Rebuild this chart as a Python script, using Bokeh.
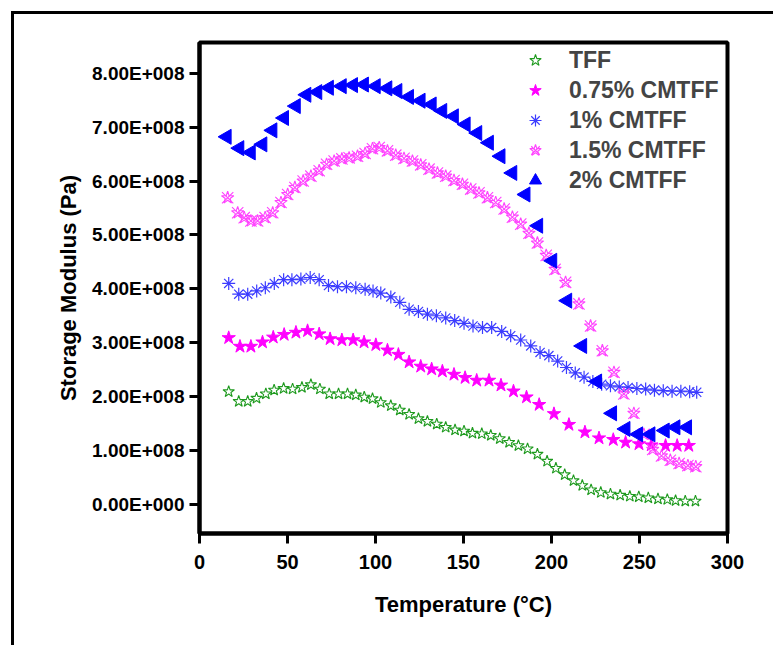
import numpy as np
from bokeh.plotting import figure
from bokeh.models import Legend, LegendItem, FixedTicker, Range1d
from bokeh.embed import file_html
from bokeh.resources import INLINE

# ---- data (storage modulus in units of 1e8 Pa) ----
temp_tff = [16.6, 22.3, 27.4, 32.4, 37.7, 42.4, 47.8, 52.9, 58.2, 63.3, 68.4, 73.7, 79.0, 84.1, 88.8,
            93.6, 98.3, 103.0, 108.7, 113.8, 119.1, 124.4, 129.5, 134.8, 139.9, 145.2, 150.3, 155.1,
            160.4, 165.5, 170.6, 175.9, 181.2, 186.4, 192.0, 197.5, 202.5, 207.5, 212.5, 217.5, 222.5,
            228.0, 233.5, 239.0, 244.5, 249.6, 255.0, 260.5, 265.8, 270.5, 276.0, 281.8]
mod_tff = [2.09, 1.91, 1.91, 1.97, 2.05, 2.12, 2.15, 2.14, 2.17, 2.22, 2.14, 2.05, 2.05, 2.05, 2.03,
           1.99, 1.96, 1.89, 1.83, 1.75, 1.67, 1.59, 1.54, 1.49, 1.43, 1.38, 1.36, 1.32,
           1.31, 1.28, 1.22, 1.15, 1.09, 1.03, 0.93, 0.80, 0.67, 0.55, 0.44, 0.35, 0.27,
           0.22, 0.19, 0.17, 0.15, 0.14, 0.12, 0.10, 0.09, 0.07, 0.06, 0.06]

temp_075 = [16.6, 23.0, 29.2, 35.8, 41.9, 48.1, 54.8, 61.4, 68.0, 74.2, 80.9, 87.3, 93.5, 100.2,
            106.8, 113.0, 119.1, 125.7, 131.9, 138.0, 144.6, 150.9, 157.5, 164.5, 171.3, 178.4,
            185.8, 193.0, 201.4, 209.9, 219.0, 227.0, 235.1, 242.1, 249.7, 256.7, 264.8, 271.4, 278.0]
mod_075 = [3.09, 2.93, 2.93, 3.01, 3.10, 3.15, 3.19, 3.22, 3.16, 3.07, 3.05, 3.05, 3.01, 2.96,
           2.86, 2.78, 2.64, 2.56, 2.51, 2.47, 2.41, 2.35, 2.30, 2.30, 2.21, 2.10,
           1.99, 1.85, 1.68, 1.48, 1.34, 1.23, 1.20, 1.15, 1.12, 1.10, 1.09, 1.09, 1.09]

temp_1 = [16.6, 22.3, 27.4, 32.5, 37.4, 42.5, 47.8, 52.5, 57.6, 62.9, 68.0, 73.3, 78.4, 83.5, 88.8,
          94.1, 98.6, 103.0, 108.7, 113.8, 119.1, 124.4, 129.5, 134.6, 139.9, 145.0, 150.3, 155.4,
          160.8, 166.0, 171.7, 176.8, 182.5, 188.2, 193.5, 198.5, 203.5, 208.5, 213.5, 218.5, 223.5,
          228.5, 233.5, 238.5, 243.5, 248.5, 253.5, 258.5, 263.5, 268.5, 273.5, 278.5, 282.5]
mod_1 = [4.10, 3.90, 3.90, 3.96, 4.02, 4.10, 4.17, 4.17, 4.18, 4.21, 4.17, 4.06, 4.04, 4.04, 4.02,
         3.99, 3.96, 3.92, 3.85, 3.75, 3.62, 3.58, 3.53, 3.50, 3.46, 3.41, 3.36, 3.31,
         3.28, 3.28, 3.21, 3.13, 3.05, 2.94, 2.82, 2.76, 2.66, 2.54, 2.44, 2.36, 2.28,
         2.23, 2.20, 2.18, 2.17, 2.15, 2.14, 2.12, 2.11, 2.10, 2.10, 2.09, 2.08]

temp_15 = [16.0, 21.7, 25.4, 29.2, 33.0, 37.3, 41.6, 46.3, 50.1, 54.2, 58.9, 63.3, 68.0, 72.2, 76.5,
           80.9, 85.0, 89.8, 94.1, 98.3, 102.1, 106.8, 111.5, 116.2, 121.0, 125.7, 130.4, 135.2,
           139.9, 144.6, 149.4, 154.1, 158.8, 163.6, 168.3, 173.1, 177.8, 182.5, 187.2, 192.0,
           197.0, 202.0, 208.0, 215.6, 222.2, 228.9, 235.5, 241.1, 246.8, 252.5, 257.5, 262.5,
           267.5, 272.5, 277.5, 282.0]
mod_15 = [5.69, 5.41, 5.32, 5.26, 5.26, 5.32, 5.41, 5.60, 5.75, 5.88, 6.00, 6.09, 6.19, 6.31, 6.37,
          6.41, 6.43, 6.46, 6.51, 6.60, 6.62, 6.56, 6.48, 6.42, 6.37, 6.30, 6.22, 6.15,
          6.09, 6.01, 5.94, 5.85, 5.78, 5.69, 5.60, 5.48, 5.33, 5.20, 5.03, 4.85,
          4.62, 4.36, 4.12, 3.72, 3.31, 2.85, 2.45, 2.05, 1.69, 1.30, 1.02, 0.90,
          0.82, 0.76, 0.72, 0.70]

temp_2 = [15.5, 22.7, 29.2, 35.8, 41.5, 48.1, 54.8, 60.8, 67.0, 73.6, 80.9, 87.3, 93.5, 100.2,
          106.8, 112.5, 119.1, 125.7, 132.0, 138.0, 144.6, 151.3, 157.9, 164.5, 171.1, 177.8,
          185.3, 192.5, 200.5, 209.0, 217.5, 226.0, 234.5, 242.1, 249.3, 256.3, 264.4, 270.5, 277.1]
mod_2 = [6.82, 6.61, 6.53, 6.68, 6.94, 7.17, 7.39, 7.60, 7.65, 7.73, 7.76, 7.78, 7.79, 7.76,
         7.72, 7.67, 7.56, 7.49, 7.42, 7.30, 7.20, 7.05, 6.89, 6.71, 6.46, 6.15,
         5.75, 5.17, 4.52, 3.78, 2.94, 2.28, 1.69, 1.40, 1.30, 1.30, 1.37, 1.43, 1.43]

series_labels = ["TFF", "0.75% CMTFF", "1% CMTFF", "1.5% CMTFF", "2% CMTFF"]
x_ticks = [0, 50, 100, 150, 200, 250, 300]
y_ticks = [0, 1e8, 2e8, 3e8, 4e8, 5e8, 6e8, 7e8, 8e8]
y_tick_labels = ["0.00E+000", "1.00E+008", "2.00E+008", "3.00E+008", "4.00E+008",
                 "5.00E+008", "6.00E+008", "7.00E+008", "8.00E+008"]
UNIT = 1e8

FONT = "Liberation Sans"

p = figure(frame_width=528, frame_height=491,
           min_border_left=185, min_border_top=28, min_border_right=46, min_border_bottom=112,
           x_range=Range1d(0, 300), y_range=Range1d(-0.54e8, 8.57e8),
           output_backend="svg", toolbar_location=None,
           styles={"margin-left": "11px", "margin-top": "11px",
                   "border-left": "3px solid black", "border-top": "3px solid black"})

p.background_fill_color = "white"
p.border_fill_color = "white"
p.outline_line_color = "black"
p.outline_line_width = 4
p.xgrid.visible = False
p.ygrid.visible = False

for ax in (p.xaxis[0], p.yaxis[0]):
    ax.axis_line_width = 4
    ax.major_tick_line_width = 3
    ax.major_tick_out = 10
    ax.major_tick_in = 0
    ax.minor_tick_line_color = None
    ax.major_label_text_font = FONT
    ax.major_label_text_font_style = "bold"
    ax.major_label_text_color = "black"
    ax.axis_label_text_font = FONT
    ax.axis_label_text_font_style = "bold"
    ax.axis_label_text_font_size = "22px"
    ax.axis_label_text_color = "black"

p.xaxis[0].major_label_text_font_size = "20px"
p.yaxis[0].major_label_text_font_size = "19px"

p.xaxis[0].ticker = FixedTicker(ticks=x_ticks)
p.xaxis[0].major_label_standoff = 11
p.xaxis[0].axis_label = "Temperature (°C)"
p.xaxis[0].axis_label_standoff = 20

p.yaxis[0].ticker = FixedTicker(ticks=y_ticks)
p.yaxis[0].major_label_overrides = {t: s for t, s in zip(y_ticks, y_tick_labels)}
p.yaxis[0].major_label_standoff = 5
p.yaxis[0].axis_label = "Storage Modulus (Pa)"
p.yaxis[0].axis_label_standoff = 8

def ys(vals):
    return (np.array(vals) * UNIT).tolist()

r_tff = p.scatter(temp_tff, ys(mod_tff), marker="star", size=12, fill_color=None,
                  line_color="#1e9a1e", line_width=1.1)
r_075 = p.scatter(temp_075, ys(mod_075), marker="star", size=14, fill_color="#ff00ff",
                  line_color="#ff00ff", line_width=1)
r_1 = p.scatter(temp_1, ys(mod_1), marker="asterisk", size=13, line_color="#3c3cff", line_width=1.2)
r_15a = p.scatter(temp_15, ys(mod_15), marker="star", size=13, fill_color=None,
                  line_color="#ff44ff", line_width=1.1)
r_15b = p.scatter(temp_15, ys(mod_15), marker="x", size=16, line_color="#ff44ff", line_width=1.1)
r_2 = p.scatter(temp_2, ys(mod_2), marker="triangle", angle=np.pi / 2, size=15,
                fill_color="#0000ff", line_color="#0000ff")

legend = Legend(items=[LegendItem(label=series_labels[0], renderers=[r_tff]),
                       LegendItem(label=series_labels[1], renderers=[r_075]),
                       LegendItem(label=series_labels[2], renderers=[r_1]),
                       LegendItem(label=series_labels[3], renderers=[r_15a, r_15b]),
                       LegendItem(label=series_labels[4], renderers=[r_2])],
                location=(321, 338), orientation="vertical", padding=0, margin=0, spacing=0,
                glyph_width=30, glyph_height=30, label_height=30, label_standoff=19,
                label_text_font=FONT, label_text_font_style="bold", label_text_font_size="23px",
                border_line_alpha=0, background_fill_alpha=0)
p.add_layout(legend)

open("out.html", "w").write(file_html(p, INLINE))
